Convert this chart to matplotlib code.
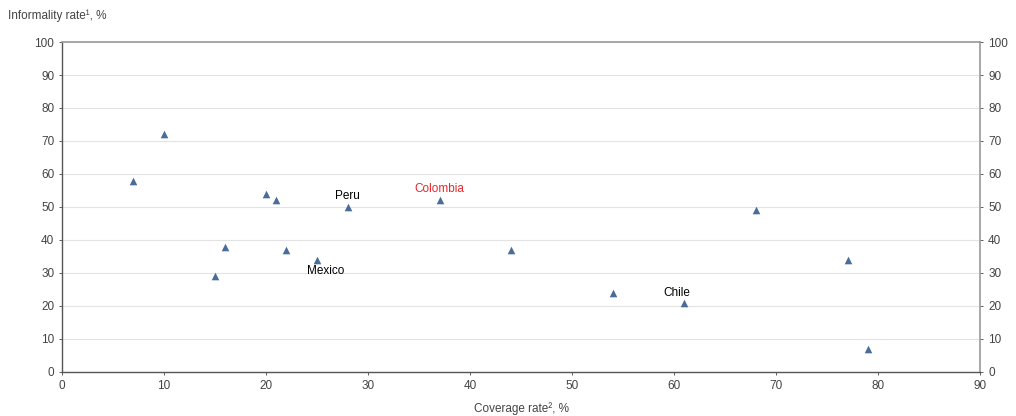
import matplotlib.pyplot as plt

plt.rcParams['font.family'] = ['Liberation Sans', 'DejaVu Sans']

# Coverage rate (x) and informality rate (y), %
coverage = [7, 10, 15, 16, 20, 21, 22, 25, 28, 37, 44, 54, 61, 68, 77, 79]
informality = [58, 72, 29, 38, 54, 52, 37, 34, 50, 52, 37, 24, 21, 49, 34, 7]

fig = plt.figure(figsize=(10.16, 4.16), dpi=100)
ax = fig.add_axes([0.061, 0.106, 0.904, 0.793])

ax.scatter(coverage, informality, marker='^', s=30, color='#4a6c9b', zorder=3, linewidths=0)

# country labels
ax.text(28, 51.5, 'Peru', ha='center', va='bottom', fontsize=8.5, color='black')
ax.text(37, 53.5, 'Colombia', ha='center', va='bottom', fontsize=8.5, color='#e8262b')
ax.text(25.8, 32.5, 'Mexico', ha='center', va='top', fontsize=8.5, color='black')
ax.text(60.2, 22.2, 'Chile', ha='center', va='bottom', fontsize=8.5, color='black')

ax.set_xlim(0, 90)
ax.set_ylim(0, 100)
ax.set_xticks(range(0, 91, 10))
ax.set_yticks(range(0, 101, 10))
ax.grid(axis='y', color='#e3e3e3', linewidth=0.8)
ax.set_axisbelow(True)

for side in ['top', 'right']:
    ax.spines[side].set_color('#9a9a9a')
    ax.spines[side].set_linewidth(1.2)
for side in ['left', 'bottom']:
    ax.spines[side].set_color('#555555')
    ax.spines[side].set_linewidth(1.0)

ax.tick_params(axis='both', labelsize=8.5, colors='#444444', length=2, width=0.6)
ax.tick_params(axis='y', right=True, labelright=True)

ax.set_xlabel('Coverage rate², %', fontsize=8.5, color='#444444', labelpad=8)
fig.text(0.008, 0.962, 'Informality rate¹, %', fontsize=8.5, color='#444444', ha='left', va='center')

plt.savefig('out.png', dpi=100)
